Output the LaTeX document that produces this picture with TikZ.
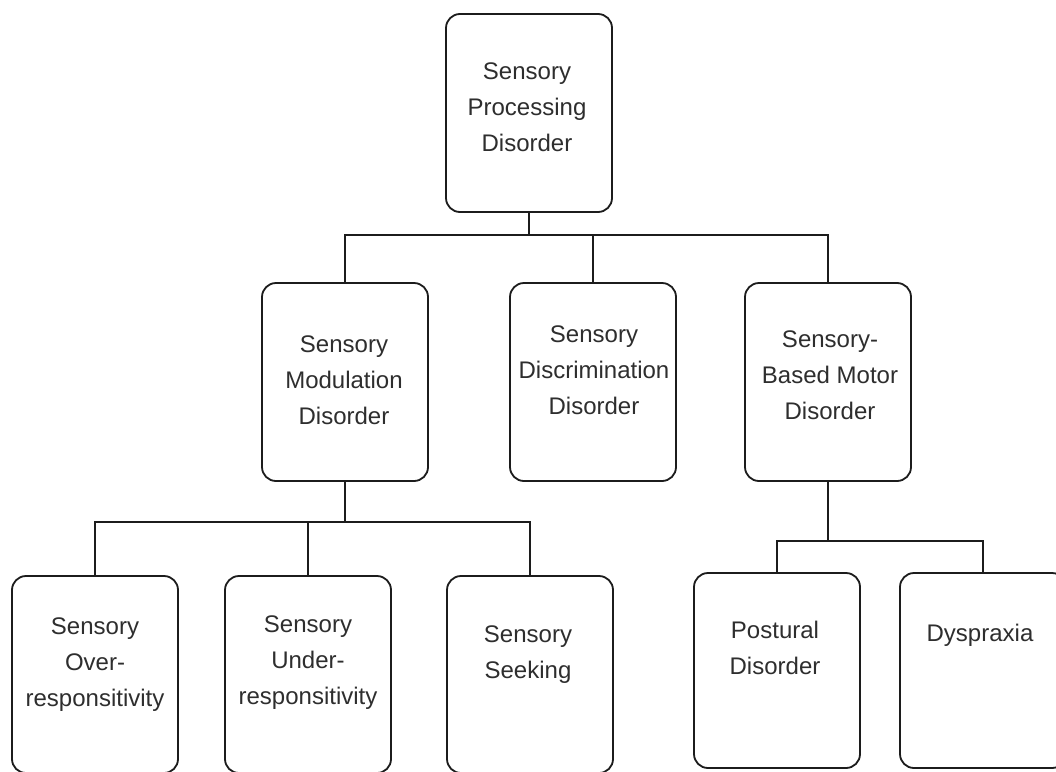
\documentclass[tikz,border=0pt]{standalone}
\usepackage{fontspec}
\setmainfont{Liberation Sans}
\definecolor{txtgray}{HTML}{2E2E2E}
\definecolor{linegray}{HTML}{1C1C1C}
\begin{document}
\begin{tikzpicture}[x=1pt,y=-1pt,
  box/.style={draw=linegray, line width=1.8pt, rounded corners=14pt, minimum width=166pt, inner sep=0pt, fill=white},
  txt/.style={text=txtgray, align=center, font=\fontsize{24}{36}\selectfont, inner sep=0pt},
  conn/.style={draw=linegray, line width=1.8pt}]
\useasboundingbox (0,0) rectangle (1056,771);
\fill[white] (0,0) rectangle (1056,771);
\clip (0,0) rectangle (1056,771);
% boxes
\node[box, minimum height=198pt] (spd) at (529,113) {};
\node[box, minimum height=198pt] (smd) at (345,382) {};
\node[box, minimum height=198pt] (sdd) at (593,382) {};
\node[box, minimum height=198pt] (sbmd) at (828,382) {};
\node[box, minimum height=197pt] (sor) at (95,674.5) {};
\node[box, minimum height=197pt] (sur) at (308,674.5) {};
\node[box, minimum height=197pt] (ss) at (530,674.5) {};
\node[box, minimum height=195pt] (pd) at (777,670.5) {};
\node[box, minimum height=195pt] (dys) at (983,670.5) {};
% texts
\node[txt] (spdt) at (527,107) {Sensory\\Processing\\Disorder};
\node[txt] (smdt) at (344,380) {Sensory\\Modulation\\Disorder};
\node[txt] (sddt) at (594,370) {Sensory\\Discrimination\\Disorder};
\node[txt] (sbmdt) at (830,375) {Sensory-\\Based Motor\\Disorder};
\node[txt] (sort) at (95,665) {Sensory\\Over-\\responsitivity};
\node[txt] (surt) at (308,663) {Sensory\\Under-\\responsitivity};
\node[txt] (sst) at (528,655) {Sensory\\Seeking};
\node[txt] (pdt) at (775,648) {Postural\\Disorder};
\node[txt] (dyst) at (980,635) {Dyspraxia};
% bus coordinates
\coordinate (bus1) at (0,235);
\coordinate (bus2) at (0,522);
\coordinate (bus3) at (0,541);
% connectors level 1
\draw[conn] (spd.south) -- (spd.south |- bus1);
\draw[conn] (smd.north) |- (sbmd.north |- bus1) -- (sbmd.north);
\draw[conn] (sdd.north) -- (sdd.north |- bus1);
% connectors level 2 (modulation)
\draw[conn] (smd.south) -- (smd.south |- bus2);
\draw[conn] (sor.north) |- (ss.north |- bus2) -- (ss.north);
\draw[conn] (sur.north) -- (sur.north |- bus2);
% connectors level 2 (motor)
\draw[conn] (sbmd.south) -- (sbmd.south |- bus3);
\draw[conn] (pd.north) |- (dys.north |- bus3) -- (dys.north);
\end{tikzpicture}
\end{document}
